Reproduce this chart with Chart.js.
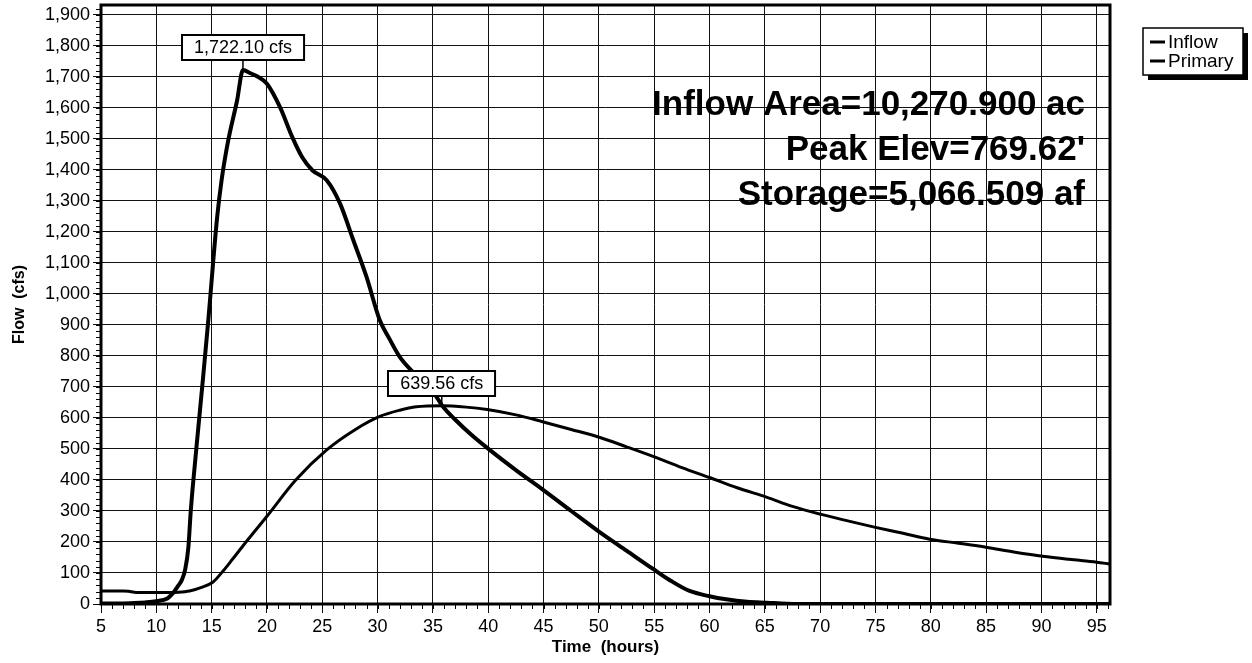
<!DOCTYPE html>
<html lang="en">
<head>
<meta charset="UTF-8">
<title>Pond Routing Hydrograph</title>
<script src="https://cdn.jsdelivr.net/npm/chart.js"></script>
<style>
  html, body { margin: 0; padding: 0; background: #fff; }
  canvas { display: block; }
</style>
</head>
<body>
<canvas id="chart" width="1252" height="663"></canvas>
<script>
const inflowHours = [5, 6, 7, 8, 9, 10, 11, 11.5, 12, 12.3, 12.6, 12.9, 13.1, 13.3, 13.8, 14.2, 14.7, 15.5, 15.9, 16.5, 17.3, 17.83, 18.5, 19.1, 20, 21.2, 22.3, 23.2, 24.1, 25.4, 26.6, 27.8, 29, 30.2, 31, 32, 33, 34, 35, 35.9, 37, 38.5, 40.1, 42.5, 44.9, 47.5, 50.1, 52.5, 54.9, 56.5, 58.2, 60, 61.5, 63.4, 65.2, 67, 70, 80, 96.2];
const inflowCfs = [2, 2, 2, 3, 5, 9, 18, 35, 60, 77, 110, 184, 293, 380, 570, 720, 916, 1248, 1367, 1495, 1624, 1722.1, 1712, 1702, 1678, 1601, 1505, 1440, 1399, 1367, 1292, 1174, 1055, 915, 860, 797, 755, 720, 685, 637, 595, 545, 498, 432, 370, 300, 231, 172, 113, 75, 42, 25, 15, 7, 4, 1, 0, 0, 0];

const primaryHours = [5, 6, 7, 7.5, 8, 9, 10, 11, 12, 13, 13.9, 15.1, 16, 16.9, 18, 20, 22.6, 25.4, 28, 30.2, 32, 33.5, 35.8, 38, 39.9, 42.5, 44.9, 47.5, 50.1, 52.5, 54.9, 57.5, 60, 62.5, 65.2, 67.5, 70.1, 72.5, 74.9, 77.5, 79.9, 82.5, 85, 87.5, 90.1, 92.5, 95, 96.2];
const primaryCfs = [42, 42, 42, 41, 38, 37, 37, 37, 38, 42, 51, 70, 105, 145, 195, 283, 400, 497, 563, 605, 625, 636, 639.56, 635, 627, 610, 588, 563, 537, 507, 476, 440, 408, 375, 344, 315, 289, 268, 248, 228, 209, 196, 183, 168, 154, 144, 135, 129];

const seriesNames = ['Inflow', 'Primary'];
const peakLabels = ['1,722.10 cfs', '639.56 cfs'];
const xTickValues = [5, 10, 15, 20, 25, 30, 35, 40, 45, 50, 55, 60, 65, 70, 75, 80, 85, 90, 95];
const yTickValues = [0, 100, 200, 300, 400, 500, 600, 700, 800, 900, 1000, 1100, 1200, 1300, 1400, 1500, 1600, 1700, 1800, 1900];
const infoLines = ['Inflow Area=10,270.900 ac', "Peak Elev=769.62'", 'Storage=5,066.509 af'];

const FONT = '"Liberation Sans", Arial, sans-serif';

function zip(xs, ys) {
    return xs.map((x, i) => ({ x: x, y: ys[i] }));
}

// minor ticks, plot frame, peak boxes, info text and legend
const decorPlugin = {
    id: 'decor',
    afterDatasetsDraw(chart) {
        const ctx = chart.ctx;
        const area = chart.chartArea;
        const xs = chart.scales.x;
        const ys = chart.scales.y;

        ctx.save();
        ctx.strokeStyle = '#000';

        // minor ticks
        ctx.lineWidth = 1;
        ctx.beginPath();
        for (let h = 5; h <= xs.max; h += 1) {
            const px = Math.round(xs.getPixelForValue(h)) + 0.5;
            ctx.moveTo(px, area.bottom);
            ctx.lineTo(px, area.bottom + 5);
        }
        for (let v = 0; v <= ys.max; v += 20) {
            const py = Math.round(ys.getPixelForValue(v)) + 0.5;
            ctx.moveTo(area.left - 5, py);
            ctx.lineTo(area.left, py);
        }
        ctx.stroke();

        // frame
        ctx.lineWidth = 3;
        ctx.strokeRect(area.left, area.top, area.right - area.left, area.bottom - area.top);

        // peak labels
        ctx.font = '18px ' + FONT;
        ctx.textAlign = 'center';
        ctx.textBaseline = 'middle';
        chart.data.datasets.forEach((ds, i) => {
            let best = 0;
            ds.data.forEach((p, j) => { if (p.y > ds.data[best].y) best = j; });
            const px = xs.getPixelForValue(ds.data[best].x);
            const py = ys.getPixelForValue(ds.data[best].y);
            const w = ctx.measureText(peakLabels[i]).width + 24;
            const h = 25;
            const bx = Math.round(px - w / 2);
            const by = Math.round(py - 10 - h);
            ctx.lineWidth = 1.5;
            ctx.beginPath();
            ctx.moveTo(px, by + h);
            ctx.lineTo(px, py - 1);
            ctx.stroke();
            ctx.fillStyle = '#fff';
            ctx.fillRect(bx, by, w, h);
            ctx.lineWidth = 2;
            ctx.strokeRect(bx, by, w, h);
            ctx.fillStyle = '#000';
            ctx.fillText(peakLabels[i], px, by + h / 2 + 1);
        });

        // info text
        ctx.font = 'bold 35px ' + FONT;
        ctx.textAlign = 'right';
        ctx.fillStyle = '#000';
        infoLines.forEach((t, i) => {
            ctx.fillText(t, area.right - 25, area.top + 100 + i * 45);
        });

        // legend
        const lx = area.right + 33, ly = 28, lw = 100, lh = 47;
        ctx.fillStyle = '#000';
        ctx.fillRect(lx + 5, ly + 5, lw, lh);
        ctx.fillStyle = '#fff';
        ctx.fillRect(lx, ly, lw, lh);
        ctx.lineWidth = 1.5;
        ctx.strokeRect(lx, ly, lw, lh);
        ctx.font = '19px ' + FONT;
        ctx.textAlign = 'left';
        chart.data.datasets.forEach((ds, i) => {
            const yy = ly + 14 + i * 19;
            ctx.lineWidth = 3;
            ctx.beginPath();
            ctx.moveTo(lx + 7, yy);
            ctx.lineTo(lx + 22, yy);
            ctx.stroke();
            ctx.fillStyle = '#000';
            ctx.fillText(ds.label, lx + 25, yy + 1);
        });
        ctx.restore();
    }
};

new Chart(document.getElementById('chart').getContext('2d'), {
    type: 'line',
    data: {
        datasets: [
            {
                label: seriesNames[0],
                data: zip(inflowHours, inflowCfs),
                borderColor: '#000',
                borderWidth: 4,
                pointRadius: 0,
                cubicInterpolationMode: 'monotone',
                fill: false
            },
            {
                label: seriesNames[1],
                data: zip(primaryHours, primaryCfs),
                borderColor: '#000',
                borderWidth: 3,
                pointRadius: 0,
                cubicInterpolationMode: 'monotone',
                fill: false
            }
        ]
    },
    options: {
        responsive: false,
        animation: false,
        layout: { padding: { top: 5, right: 142, left: 0, bottom: 0 } },
        plugins: {
            legend: { display: false },
            tooltip: { enabled: false }
        },
        scales: {
            x: {
                type: 'linear',
                min: 5,
                max: 96.2,
                afterBuildTicks: (scale) => { scale.ticks = xTickValues.map(v => ({ value: v })); },
                afterFit: (scale) => {
                    scale.height = 59;
                    scale.paddingLeft = 0;
                    scale.paddingRight = 0;
                },
                ticks: {
                    autoSkip: false,
                    maxRotation: 0,
                    padding: 3,
                    color: '#000',
                    font: { family: FONT, size: 18 }
                },
                grid: { color: '#111', lineWidth: 1, tickLength: 9 },
                border: { display: false },
                title: {
                    display: true,
                    text: 'Time  (hours)',
                    color: '#000',
                    font: { family: FONT, size: 17, weight: 'bold' },
                    padding: { top: 0, bottom: 5 }
                }
            },
            y: {
                min: 0,
                max: 1932,
                afterBuildTicks: (scale) => { scale.ticks = yTickValues.map(v => ({ value: v })); },
                afterFit: (scale) => {
                    scale.width = 101;
                    scale.paddingTop = 0;
                    scale.paddingBottom = 0;
                },
                ticks: {
                    autoSkip: false,
                    padding: 3,
                    color: '#000',
                    font: { family: FONT, size: 18 },
                    callback: (v) => Number(v).toLocaleString('en-US')
                },
                grid: { color: '#111', lineWidth: 1, tickLength: 8 },
                border: { display: false },
                title: {
                    display: true,
                    text: 'Flow  (cfs)',
                    color: '#000',
                    font: { family: FONT, size: 16, weight: 'bold' },
                    padding: { top: 10, bottom: 0 }
                }
            }
        }
    },
    plugins: [decorPlugin]
});
</script>
</body>
</html>
